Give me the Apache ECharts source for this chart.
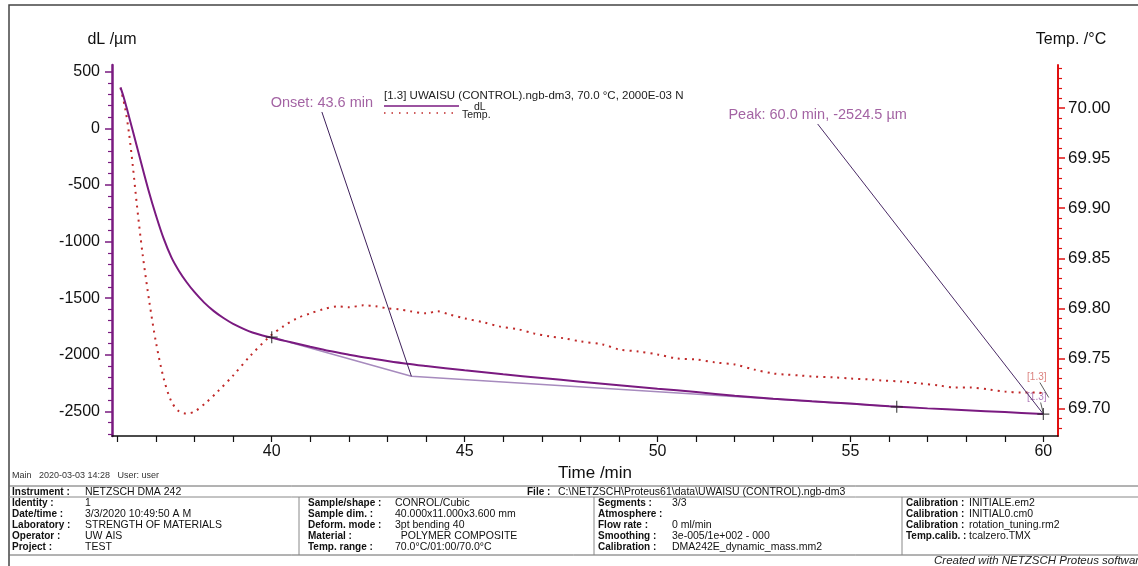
<!DOCTYPE html>
<html>
<head>
<meta charset="utf-8">
<script src="https://cdn.jsdelivr.net/npm/echarts@6/dist/echarts.min.js"></script>
<style>
  html, body { margin: 0; padding: 0; background: #fff; }
  #chart { width: 1138px; height: 566px; }
</style>
</head>
<body>
<div id="chart"></div>
<script>
// dL curve (time in min, length change in µm)
var dlTime = [36.08, 36.15, 36.25, 36.4, 36.6, 36.8, 37.0, 37.2, 37.4, 37.6, 37.8, 38.0, 38.25, 38.5, 38.75, 39.0, 39.5,
  40.0, 40.5, 41.0, 41.5, 42.0, 42.5, 43.0, 43.5, 44, 45, 46, 47, 48, 49, 50, 51, 52, 53, 54, 55, 56, 57, 58, 59, 60.0];
var dlValue = [362, 290, 168, -25, -285, -540, -770, -975, -1140, -1262, -1362, -1448, -1540, -1615, -1676, -1727, -1804,
  -1850, -1890, -1930, -1968, -2000, -2030, -2056, -2080, -2100, -2138, -2173, -2206, -2238, -2269, -2300, -2330,
  -2362, -2388, -2411, -2432, -2455, -2474, -2490, -2507, -2524.5];

// temperature curve (time in min, °C)
var tempTime = [36.08, 36.2, 36.3, 36.4, 36.5, 36.65, 36.83, 37.0, 37.2, 37.4, 37.6, 37.78, 38.0, 38.3, 38.6, 39.0,
  39.43, 39.95, 40.3, 40.65, 41.0, 41.33, 41.7, 42.0, 42.37, 42.7, 43.0, 43.3, 43.6, 44.0, 44.3, 44.6, 45.0, 45.5,
  45.9, 46.4, 46.8, 47.2, 47.6, 48.0, 48.58, 49.0, 49.5, 50.0, 50.5, 51.0, 51.5, 52.0, 52.5, 53.0, 53.3, 53.7, 54.0,
  54.6, 55.0, 55.5, 55.8, 56.3, 56.8, 57.3, 57.7, 58.1, 58.6, 59.0, 59.4, 59.8, 60.05];
var tempValue = [70.02, 70.0, 69.975, 69.942, 69.905, 69.855, 69.806, 69.766, 69.73, 69.707, 69.697, 69.695, 69.697,
  69.706, 69.717, 69.733, 69.752, 69.772, 69.782, 69.79, 69.795, 69.799, 69.802, 69.801, 69.803, 69.802, 69.8,
  69.799, 69.797, 69.795, 69.797, 69.794, 69.79, 69.786, 69.782, 69.779, 69.775, 69.772, 69.77, 69.767, 69.764,
  69.759, 69.757, 69.754, 69.75, 69.749, 69.746, 69.744, 69.739, 69.735, 69.734, 69.733, 69.732, 69.731, 69.73,
  69.729, 69.728, 69.727, 69.725, 69.723, 69.721, 69.721, 69.719, 69.717, 69.716, 69.716, 69.715];

// evaluation marks
var tangentPts = [[40.0, -1845], [43.62, -2190], [56.2, -2460]];
var crossPts = [[40.0, -1845], [56.2, -2460], [60.0, -2524.5]];
var onsetLeader = [[41.30, 144], [43.62, -2190]];
var peakLeader = [[54.15, 38], [60.0, -2524.5]];
var tempTagLeader = [[59.91, 69.726], [60.14, 69.711]];
var dlTagLeader = [[59.93, -2422], [60.0, -2520]];

// ticks
var xTicks = [36, 37, 38, 39, 40, 41, 42, 43, 44, 45, 46, 47, 48, 49, 50, 51, 52, 53, 54, 55, 56, 57, 58, 59, 60];
var xLabels = [40, 45, 50, 55, 60];
var dlLabels = [-2500, -2000, -1500, -1000, -500, 0, 500];
var dlMinor = [-2700, -2600, -2400, -2300, -2200, -2100, -1900, -1800, -1700, -1600, -1400, -1300, -1200, -1100,
  -900, -800, -700, -600, -400, -300, -200, -100, 100, 200, 300, 400];
var tempLabels = [69.70, 69.75, 69.80, 69.85, 69.90, 69.95, 70.00];
var tempMinor = [69.68, 69.69, 69.71, 69.72, 69.73, 69.74, 69.76, 69.77, 69.78, 69.79, 69.81, 69.82, 69.83, 69.84,
  69.86, 69.87, 69.88, 69.89, 69.91, 69.92, 69.93, 69.94, 69.96, 69.97, 69.98, 69.99, 70.01, 70.02, 70.03, 70.04];

function zip(a, b) {
  return a.map(function (v, i) { return [v, b[i]]; });
}

var FONT = "'Liberation Sans', Arial, sans-serif";
var PURPLE = '#7a1a80';
var RED = '#e01010';
var TEMPRED = '#c02a2a';
var NOTE = '#8c3c8c';

// info table below the plot
var rowsY = [503, 514, 525, 536, 547];
var tableCols = [
  { lx: 12, vx: 85, labels: ['Identity :', 'Date/time :', 'Laboratory :', 'Operator :', 'Project :'],
    values: ['1', '3/3/2020 10:49:50 A M', 'STRENGTH OF MATERIALS', 'UW AIS', 'TEST'] },
  { lx: 308, vx: 395, labels: ['Sample/shape :', 'Sample dim. :', 'Deform. mode :', 'Material :', 'Temp. range :'],
    values: ['CONROL/Cubic', '40.000x11.000x3.600 mm', '3pt bending 40', '  POLYMER COMPOSITE', '70.0°C/01:00/70.0°C'] },
  { lx: 598, vx: 672, labels: ['Segments :', 'Atmosphere :', 'Flow rate :', 'Smoothing :', 'Calibration :'],
    values: ['3/3', '', '0 ml/min', '3e-005/1e+002 - 000', 'DMA242E_dynamic_mass.mm2'] },
  { lx: 906, vx: 969, labels: ['Calibration :', 'Calibration :', 'Calibration :', 'Temp.calib. :', ''],
    values: ['INITIALE.em2', 'INITIAL0.cm0', 'rotation_tuning.rm2', 'tcalzero.TMX', ''] }
];

var LABFONT = 'bold 10px ' + FONT;
var VALFONT = '10.5px ' + FONT;

var graphics = [
  { type: 'rect', shape: { x: 9, y: 5, width: 1140, height: 570 }, style: { fill: 'none', stroke: '#444', lineWidth: 1.5 } },
  { type: 'line', shape: { x1: 9, y1: 486, x2: 1138, y2: 486 }, style: { stroke: '#666', lineWidth: 1 } },
  { type: 'line', shape: { x1: 9, y1: 497, x2: 1138, y2: 497 }, style: { stroke: '#888', lineWidth: 1 } },
  { type: 'line', shape: { x1: 9, y1: 555, x2: 1138, y2: 555 }, style: { stroke: '#666', lineWidth: 1 } },
  { type: 'line', shape: { x1: 299, y1: 497, x2: 299, y2: 555 }, style: { stroke: '#888', lineWidth: 1 } },
  { type: 'line', shape: { x1: 594, y1: 497, x2: 594, y2: 555 }, style: { stroke: '#888', lineWidth: 1 } },
  { type: 'line', shape: { x1: 902, y1: 497, x2: 902, y2: 555 }, style: { stroke: '#888', lineWidth: 1 } },
  // curve legend
  { type: 'text', x: 384, y: 96, style: { text: '[1.3] UWAISU (CONTROL).ngb-dm3, 70.0 °C, 2000E-03 N', font: '11.5px ' + FONT, fill: '#222', textVerticalAlign: 'middle' } },
  { type: 'line', shape: { x1: 384, y1: 106, x2: 459, y2: 106 }, style: { stroke: PURPLE, lineWidth: 1.5 } },
  { type: 'text', x: 474, y: 107, style: { text: 'dL', font: '10.5px ' + FONT, fill: '#222', textVerticalAlign: 'middle' } },
  { type: 'line', shape: { x1: 384, y1: 113, x2: 459, y2: 113 }, style: { stroke: TEMPRED, lineWidth: 1.5, lineDash: [1.5, 6] } },
  { type: 'text', x: 462, y: 115, style: { text: 'Temp.', font: '10.5px ' + FONT, fill: '#222', textVerticalAlign: 'middle' } },
  // footer
  { type: 'text', x: 12, y: 476, style: { text: 'Main   2020-03-03 14:28   User: user', font: '9px ' + FONT, fill: '#333', textVerticalAlign: 'middle' } },
  { type: 'text', x: 12, y: 492, style: { text: 'Instrument :', font: LABFONT, fill: '#111', textVerticalAlign: 'middle' } },
  { type: 'text', x: 85, y: 492, style: { text: 'NETZSCH DMA 242', font: VALFONT, fill: '#111', textVerticalAlign: 'middle' } },
  { type: 'text', x: 527, y: 492, style: { text: 'File :', font: LABFONT, fill: '#111', textVerticalAlign: 'middle' } },
  { type: 'text', x: 558, y: 492, style: { text: 'C:\\NETZSCH\\Proteus61\\data\\UWAISU (CONTROL).ngb-dm3', font: VALFONT, fill: '#111', textVerticalAlign: 'middle' } },
  { type: 'text', x: 934, y: 561, style: { text: 'Created with NETZSCH Proteus software', font: 'italic 11.5px ' + FONT, fill: '#222', textVerticalAlign: 'middle' } }
];
tableCols.forEach(function (c) {
  c.labels.forEach(function (lab, i) {
    graphics.push({ type: 'text', x: c.lx, y: rowsY[i], style: { text: lab, font: LABFONT, fill: '#111', textVerticalAlign: 'middle' } });
    graphics.push({ type: 'text', x: c.vx, y: rowsY[i], style: { text: c.values[i], font: VALFONT, fill: '#111', textVerticalAlign: 'middle' } });
  });
});

var myChart = echarts.init(document.getElementById('chart'), null, { renderer: 'canvas' });
myChart.setOption({
  animation: false,
  textStyle: { fontFamily: FONT },
  grid: { left: 112, right: 80, top: 65, bottom: 130 },
  xAxis: {
    type: 'value',
    min: 35.86,
    max: 60.38,
    name: 'Time /min',
    nameLocation: 'middle',
    nameGap: 21,
    nameTextStyle: { fontSize: 17, color: '#111', padding: [0, 0, 0, 20] },
    axisLine: { onZero: false, lineStyle: { color: '#111', width: 1.5 } },
    axisTick: { customValues: xTicks, length: 6, lineStyle: { color: '#111', width: 1.2 } },
    axisLabel: { customValues: xLabels, fontSize: 16, color: '#111', margin: 8 },
    splitLine: { show: false }
  },
  yAxis: [
    {
      type: 'value', position: 'left', min: -2718, max: 559,
      name: 'dL /µm', nameLocation: 'end', nameGap: 17,
      nameTextStyle: { fontSize: 16, color: '#111' },
      axisLine: { show: true, onZero: false, lineStyle: { color: PURPLE, width: 2.5 } },
      axisTick: { show: true, customValues: dlLabels, length: 7, lineStyle: { color: PURPLE, width: 1.5 } },
      axisLabel: { customValues: dlLabels, fontSize: 16, color: '#111', margin: 12,
        formatter: function (v) { return String(v); } },
      splitLine: { show: false }
    },
    {
      type: 'value', position: 'right', min: 69.6726, max: 70.0429,
      name: 'Temp. /°C', nameLocation: 'end', nameGap: 17,
      nameTextStyle: { fontSize: 16, color: '#111', padding: [0, 0, 0, 26] },
      axisLine: { show: true, onZero: false, lineStyle: { color: RED, width: 2 } },
      axisTick: { show: true, customValues: tempLabels, length: 7, lineStyle: { color: RED, width: 1.5 } },
      axisLabel: { customValues: tempLabels, fontSize: 17, color: '#111', margin: 10,
        formatter: function (v) { return v.toFixed(2); } },
      splitLine: { show: false }
    },
    {
      type: 'value', position: 'left', min: -2718, max: 559,
      axisLine: { show: false, onZero: false },
      axisTick: { show: true, customValues: dlMinor, length: 4, lineStyle: { color: PURPLE, width: 1.2 } },
      axisLabel: { show: false },
      splitLine: { show: false }
    },
    {
      type: 'value', position: 'right', min: 69.6726, max: 70.0429,
      axisLine: { show: false, onZero: false },
      axisTick: { show: true, customValues: tempMinor, length: 4, lineStyle: { color: RED, width: 1.2 } },
      axisLabel: { show: false },
      splitLine: { show: false }
    }
  ],
  series: [
    {
      name: 'Temp.', type: 'line', yAxisIndex: 1, data: zip(tempTime, tempValue),
      symbol: 'none', smooth: 0.3,
      lineStyle: { color: TEMPRED, width: 2, type: [2, 5] }
    },
    {
      name: 'dL', type: 'line', yAxisIndex: 0, data: zip(dlTime, dlValue),
      symbol: 'none', smooth: 0.3,
      lineStyle: { color: PURPLE, width: 2 }
    },
    {
      type: 'line', yAxisIndex: 0, data: tangentPts, symbol: 'none', silent: true, z: 1,
      lineStyle: { color: '#a78bbe', width: 1.5 }
    },
    {
      type: 'line', yAxisIndex: 0, data: onsetLeader, symbol: 'none', silent: true,
      lineStyle: { color: '#3d1f5a', width: 1 }
    },
    {
      type: 'line', yAxisIndex: 0, data: peakLeader, symbol: 'none', silent: true,
      lineStyle: { color: '#4a2a66', width: 1 }
    },
    {
      type: 'line', yAxisIndex: 1, data: tempTagLeader, symbol: 'none', silent: true,
      lineStyle: { color: '#333', width: 0.8 }
    },
    {
      type: 'line', yAxisIndex: 0, data: dlTagLeader, symbol: 'none', silent: true,
      lineStyle: { color: '#333', width: 0.8 }
    },
    {
      type: 'scatter', yAxisIndex: 0, data: crossPts, silent: true, z: 5,
      symbol: 'path://M0,6H12M6,0V12', symbolSize: 12,
      itemStyle: { color: 'rgba(0,0,0,0)', borderColor: '#222', borderWidth: 1.2 }
    },
    {
      type: 'scatter', yAxisIndex: 0, silent: true, symbolSize: 1,
      itemStyle: { color: 'rgba(0,0,0,0)' },
      label: { show: true, color: NOTE, fontSize: 14.5, position: 'top', distance: 1 },
      data: [
        { value: onsetLeader[0], label: { formatter: 'Onset: 43.6 min' } },
        { value: peakLeader[0], label: { formatter: 'Peak: 60.0 min, -2524.5 µm' } },
        { value: [59.83, -2378], label: { formatter: '[1.3]', fontSize: 10, color: '#9c5aa8', position: 'inside' } }
      ]
    },
    {
      type: 'scatter', yAxisIndex: 1, silent: true, symbolSize: 1,
      itemStyle: { color: 'rgba(0,0,0,0)' },
      label: { show: true, formatter: '[1.3]', fontSize: 10, color: '#d2625e', position: 'inside' },
      data: [[59.83, 69.731]]
    }
  ],
  graphic: graphics
});
</script>
</body>
</html>
